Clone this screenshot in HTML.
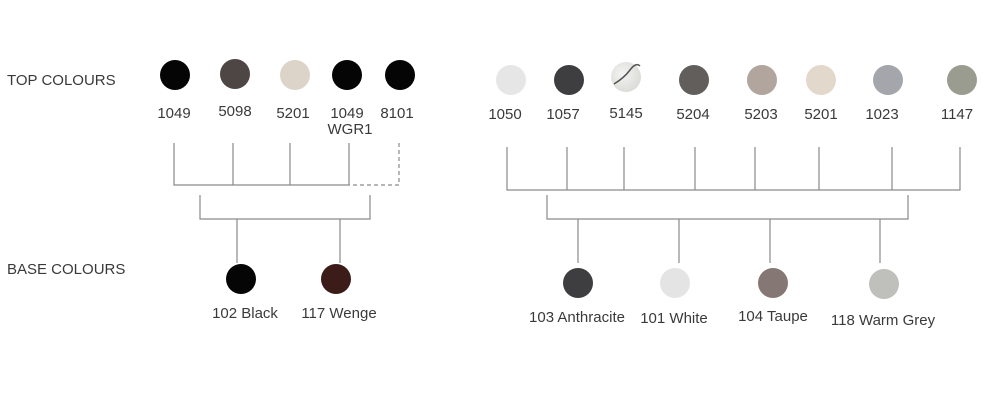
<!DOCTYPE html>
<html><head><meta charset="utf-8"><style>
html,body{margin:0;padding:0;background:#fff;}
svg{display:block;}
text{font-family:"Liberation Sans",sans-serif;fill:#3a3a3a;}
</style></head><body>
<svg width="1000" height="401" viewBox="0 0 1000 401" xmlns="http://www.w3.org/2000/svg">
<defs>
<radialGradient id="marble" cx="0.4" cy="0.4" r="0.7"><stop offset="0" stop-color="#f4f4f2"/><stop offset="1" stop-color="#d8d8d4"/></radialGradient>
</defs>
<text x="7" y="85" font-size="15">TOP COLOURS</text>
<text x="7" y="274" font-size="15">BASE COLOURS</text>
<g stroke="#8a8a8a" stroke-width="1.2" fill="none">
<path d="M174 143V185H349M233 143V185M290 143V185M349 143V185"/>
<path d="M399 143V185H349" stroke-dasharray="4,3"/>
<path d="M200 195V219H370V195M237 219V263M340 219V263"/>
<path d="M507 147V190H960V147M567 147V190M624 147V190M695 147V190M755 147V190M819 147V190M892 147V190"/>
<path d="M547 195V219H908V195M578 219V263M679 219V263M770 219V263M880 219V263"/>
</g>
<circle cx="175" cy="75" r="15" fill="#050505"/>
<circle cx="235" cy="74" r="15" fill="#4e4644"/>
<circle cx="295" cy="75" r="15" fill="#dcd4c8"/>
<circle cx="347" cy="75" r="15" fill="#050505"/>
<circle cx="400" cy="75" r="15" fill="#050505"/>
<g font-size="15" text-anchor="middle">
<text x="174" y="118">1049</text>
<text x="235" y="116">5098</text>
<text x="293" y="118">5201</text>
<text x="347" y="118">1049</text>
<text x="350" y="134">WGR1</text>
<text x="397" y="118">8101</text>
</g>
<circle cx="241" cy="279" r="15" fill="#050505"/>
<circle cx="336" cy="279" r="15" fill="#3c1c18"/>
<g font-size="15" text-anchor="middle">
<text x="245" y="318">102 Black</text>
<text x="339" y="318">117 Wenge</text>
</g>
<circle cx="511" cy="80" r="15" fill="#e6e6e6"/>
<circle cx="569" cy="80" r="15" fill="#3e3e40"/>
<circle cx="626" cy="77" r="15" fill="url(#marble)"/>
<path d="M614 84 Q624 78 630 70 T640 66" stroke="#555" stroke-width="1.5" fill="none"/>
<circle cx="694" cy="80" r="15" fill="#625e5c"/>
<circle cx="762" cy="80" r="15" fill="#b1a59e"/>
<circle cx="821" cy="80" r="15" fill="#e2d8cc"/>
<circle cx="888" cy="80" r="15" fill="#a4a6ab"/>
<circle cx="962" cy="80" r="15" fill="#9a9c90"/>
<g font-size="15" text-anchor="middle">
<text x="505" y="119">1050</text>
<text x="563" y="119">1057</text>
<text x="626" y="118">5145</text>
<text x="693" y="119">5204</text>
<text x="761" y="119">5203</text>
<text x="821" y="119">5201</text>
<text x="882" y="119">1023</text>
<text x="957" y="119">1147</text>
</g>
<circle cx="578" cy="283" r="15" fill="#3e3e40"/>
<circle cx="675" cy="283" r="15" fill="#e4e4e4"/>
<circle cx="773" cy="283" r="15" fill="#857874"/>
<circle cx="884" cy="284" r="15" fill="#bfbfbb"/>
<g font-size="15" text-anchor="middle">
<text x="577" y="322">103 Anthracite</text>
<text x="674" y="323">101 White</text>
<text x="773" y="321">104 Taupe</text>
<text x="883" y="325">118 Warm Grey</text>
</g>
</svg>
</body></html>
